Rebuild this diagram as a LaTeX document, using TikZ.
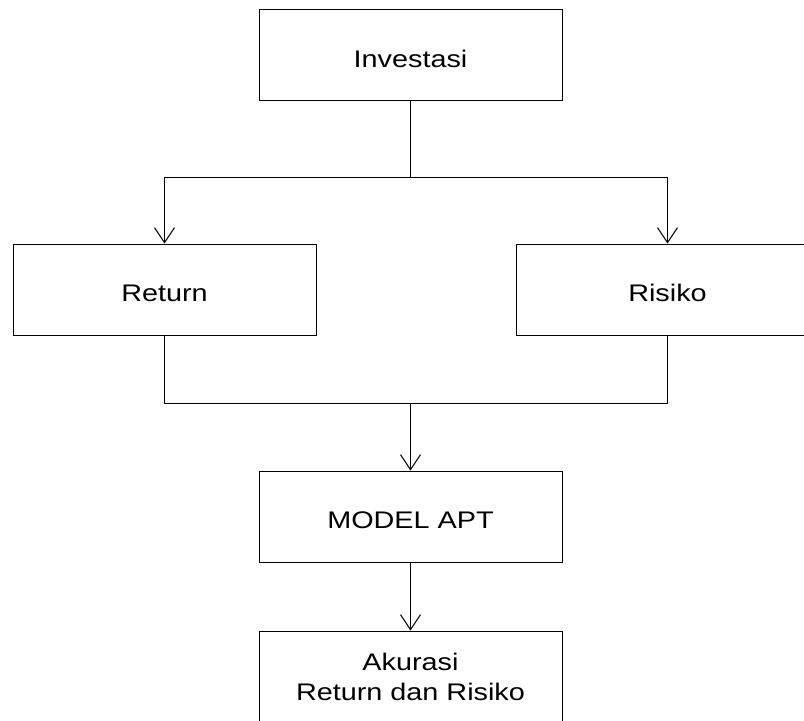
\documentclass[tikz,border=0pt]{standalone}
\usepackage{fontspec}
\setmainfont[FakeStretch=1.2]{Liberation Sans}
\usetikzlibrary{arrows.meta,calc}

\begin{document}
\begin{tikzpicture}[x=0.5pt,y=-0.5pt,
  kotak/.style={draw,line width=0.5pt,minimum width=151.5pt,minimum height=45.5pt,
    inner sep=0pt,align=center,font=\fontsize{12}{15}\selectfont},
  satu/.style={kotak,text height=12pt,text depth=0pt},
  garis/.style={line width=0.5pt},
  panah/.style={garis,-{Straight Barb[length=7.5pt,width=10pt]}}]
\useasboundingbox (0,0) rectangle (804,720);
\node[satu] (investasi) at (410.5,55) {Investasi};
\node[satu] (return) at (164.5,289.5) {Return};
\node[satu] (risiko) at (667.5,289.5) {Risiko};
\node[satu] (model) at (410.5,516.5) {MODEL APT};
\node[kotak] (akurasi) at (410.5,676.5) {Akurasi\\Return dan Risiko};
\coordinate (cabang) at (410.5,177);
\coordinate (gabung) at (410.5,403);
\draw[garis] (investasi.south) -- (cabang);
\draw[panah] (cabang) -| (return.north);
\draw[panah] (cabang) -| (risiko.north);
\draw[garis] (return.south) |- (gabung) -| (risiko.south);
\draw[panah] (gabung) -- (model.north);
\draw[panah] (model.south) -- (akurasi.north);
\end{tikzpicture}
\end{document}
